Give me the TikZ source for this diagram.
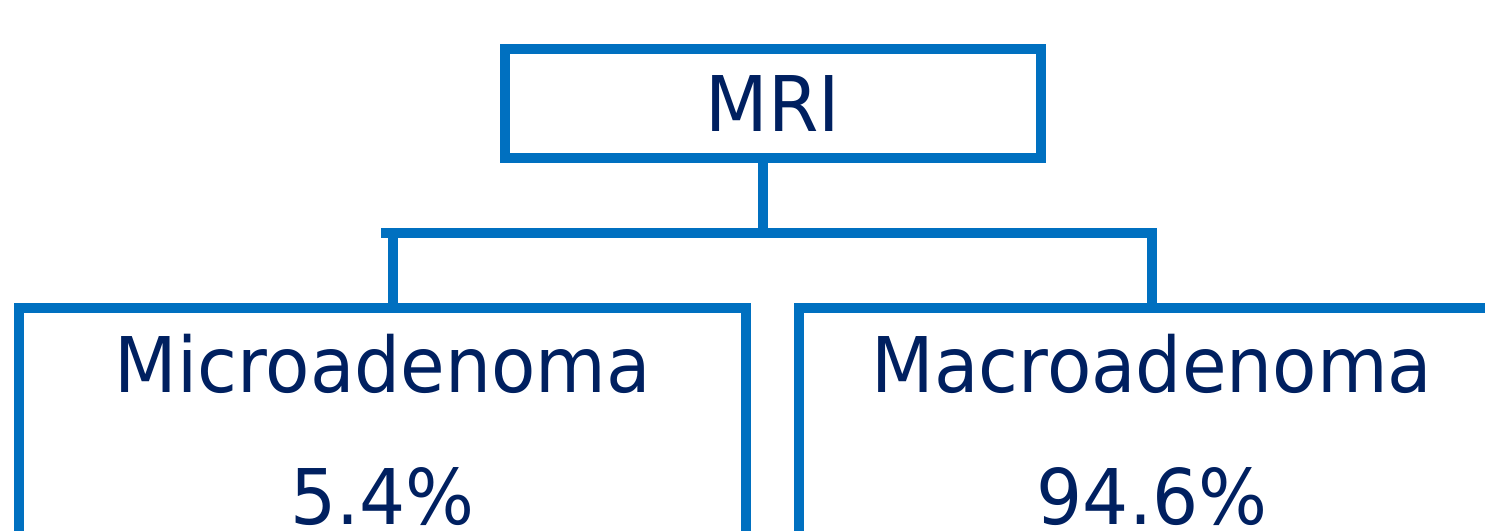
\documentclass[tikz,border=0pt]{standalone}
\usepackage{fontspec}
\setmainfont{DejaVu Sans}[FakeStretch=0.945]
\definecolor{boxblue}{RGB}{0,112,192}
\definecolor{textnavy}{RGB}{0,32,96}
\tikzset{
  box/.style = {draw=boxblue, line width=5.6pt, outer sep=0pt, text=textnavy,
    font=\fontsize{43.7}{75}\selectfont},
  leaf/.style = {box, anchor=north, inner ysep=0pt, text width=13cm, align=center,
    text height=1.7cm, text depth=6cm},
  link/.style = {draw=boxblue, line width=5.6pt, line cap=rect}
}

\begin{document}
\begin{tikzpicture}[x=0.02cm, y=-0.02cm]

  % Frame
  \useasboundingbox (0,0) rectangle (1485,531);
  \clip (0,0) rectangle (1485,531);

  % Boxes
  \node[box, minimum width=10.72cm, minimum height=2.18cm] (mri) at (773,103.5) {MRI};
  \node[leaf, minimum width=14.55cm] (micro) at (382.7,308) {Microadenoma\\5.4\%};
  \node[leaf, minimum width=14.12cm] (macro) at (1152,308) {Macroadenoma\\94.6\%};

  % Tree lines
  \coordinate (fork) at (763,233);
  \coordinate (barL) at (386,233);
  \coordinate (dropL) at (393,233);
  \coordinate (dropR) at (1152,233);
  \draw[link] (mri.south -| fork) -- (fork);
  \draw[link] (barL) -- (dropR);
  \draw[link] (dropL) -- (dropL |- micro.north);
  \draw[link] (dropR) -- (dropR |- macro.north);

\end{tikzpicture}
\end{document}
